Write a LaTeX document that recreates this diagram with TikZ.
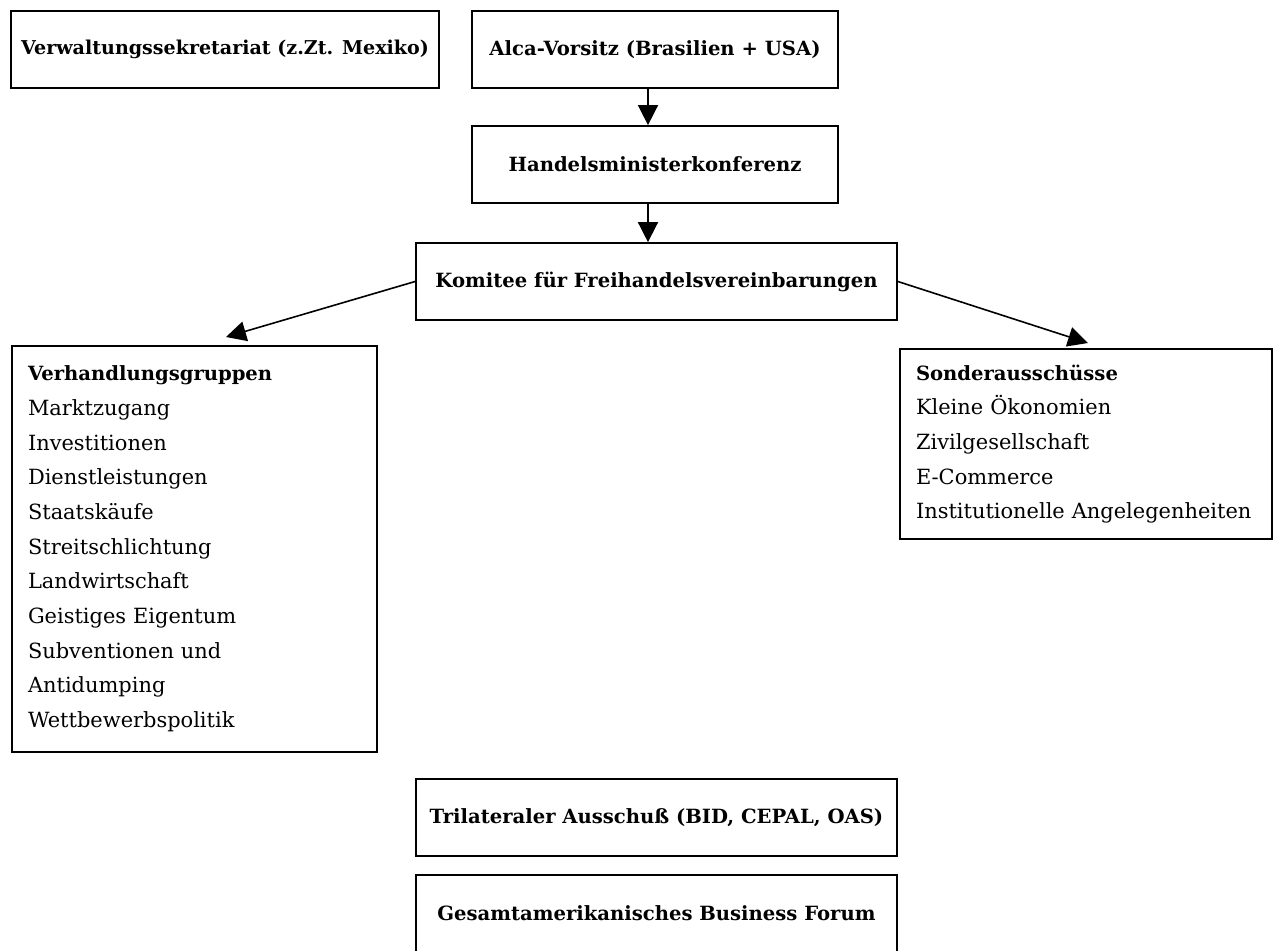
\documentclass[tikz,border=0pt]{standalone}
\usepackage{fontspec}
\setmainfont{DejaVu Serif}
\usetikzlibrary{arrows.meta}
\newcommand{\titlefont}{\fontsize{14.7}{26}\selectfont\bfseries}
\begin{document}
\begin{tikzpicture}[x=0.75pt,y=-0.75pt,
  box/.style={draw, line width=1.3pt, inner sep=0pt, minimum height=57.75pt,
    font=\fontsize{14.7}{17}\selectfont\bfseries},
  listbox/.style={draw, line width=1.3pt, inner xsep=12pt, inner ysep=0pt, align=left,
    font=\fontsize{15.7}{26}\selectfont},
  arr/.style={line width=1.2pt, -{Triangle[length=15pt,width=15pt]}}]
\useasboundingbox (0,0) rectangle (1273,950);
\node[box, minimum width=321pt, font=\fontsize{14.3}{17}\selectfont\bfseries] (verw) at (225,49.5) {Verwaltungssekretariat (z.Zt. Mexiko)};
\node[box, minimum width=274.5pt] (alca) at (655,49.5) {Alca-Vorsitz (Brasilien + USA)};
\node[box, minimum width=274.5pt] (hm) at (655,164.5) {Handelsministerkonferenz};
\node[box, minimum width=360.75pt] (kom) at (656.5,281.5) {Komitee für Freihandelsvereinbarungen};
\node[listbox, text width=249.75pt, minimum height=304.5pt] (vg) at (194.5,549) {{\titlefont Verhandlungsgruppen}\\Marktzugang\\Investitionen\\Dienstleistungen\\Staatskäufe\\Streitschlichtung\\Landwirtschaft\\Geistiges Eigentum\\Subventionen und\\Antidumping\\Wettbewerbspolitik};
\node[listbox, text width=255pt, minimum height=142.5pt] (sa) at (1086,444) {{\titlefont Sonderausschüsse}\\Kleine Ökonomien\\Zivilgesellschaft\\E-Commerce\\Institutionelle Angelegenheiten};
\node[box, minimum width=360.75pt] (tri) at (656.5,817.5) {Trilateraler Ausschuß (BID, CEPAL, OAS)};
\node[box, minimum width=360.75pt] (ges) at (656.5,913.5) {Gesamtamerikanisches Business Forum};
\coordinate (tl) at (226,337);
\coordinate (tr) at (1088,343);
\draw[arr] ([xshift=-5.25pt]alca.south) -- ([xshift=-5.25pt]hm.north);
\draw[arr] ([xshift=-5.25pt]hm.south) -- ([xshift=-6.4pt]kom.north);
\draw[arr] (kom.west) -- (tl);
\draw[arr] (kom.east) -- (tr);
\end{tikzpicture}
\end{document}
